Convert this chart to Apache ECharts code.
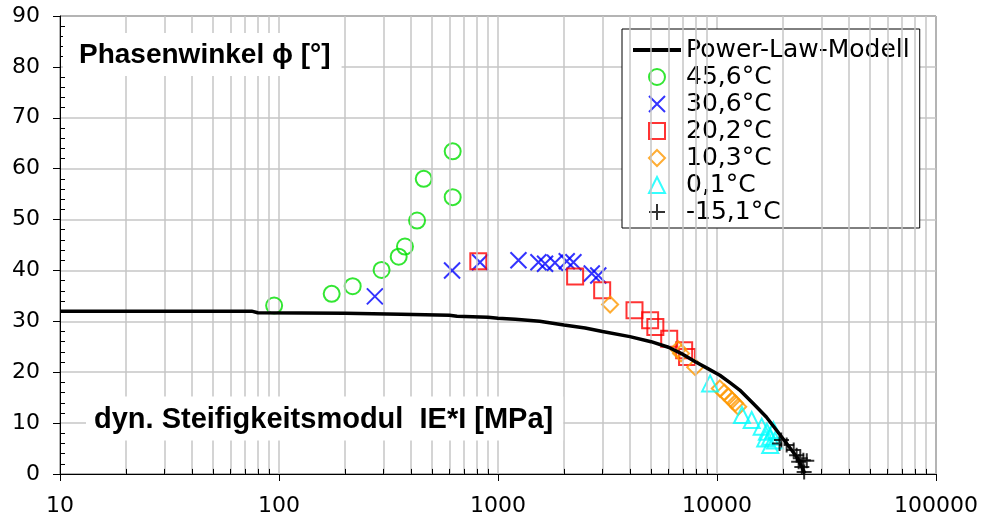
<!DOCTYPE html>
<html><head><meta charset="utf-8">
<script src="https://cdn.jsdelivr.net/npm/echarts@6/dist/echarts.min.js"></script>
<style>html,body{margin:0;padding:0;background:#fff}#c{width:984px;height:519px}</style>
</head><body><div id="c"></div>
<script>
// ---- data ----
const modelX = [10, 30, 75, 80, 200, 360, 600, 650, 900, 1000, 1200, 1550, 2000, 2500, 3000, 4000, 5000, 6000, 7000, 8000, 9000, 10300, 11500, 12700, 14600, 16800, 18700, 20800, 23100, 25200];
const modelY = [32.0, 32.0, 32.0, 31.7, 31.6, 31.4, 31.2, 31.0, 30.8, 30.6, 30.4, 30.0, 29.3, 28.7, 28.0, 27.0, 26.0, 24.9, 23.5, 22.0, 20.8, 19.4, 17.9, 16.5, 13.9, 11.2, 8.6, 6.0, 3.4, 0.1];

const t456X = [95, 174, 217, 294, 352, 376, 427, 458, 621, 621];
const t456Y = [33.1, 35.4, 36.9, 40.1, 42.7, 44.7, 49.8, 58.0, 54.4, 63.4];

const t306X = [274, 617, 828, 1240, 1530, 1640, 1820, 2060, 2210, 2680, 2870];
const t306Y = [34.9, 40.0, 41.6, 42.0, 41.6, 41.3, 41.5, 41.8, 41.6, 39.4, 39.0];

const t202X = [813, 2250, 2990, 4200, 4950, 5230, 6050, 7080, 7300];
const t202Y = [41.8, 38.8, 36.1, 32.2, 30.2, 28.9, 26.6, 24.3, 23.0];

const t103X = [3250, 6650, 6850, 7950, 10300, 10800, 11300, 11700, 12100, 12500];
const t103Y = [33.3, 24.5, 23.7, 21.0, 16.8, 16.0, 15.2, 14.5, 13.9, 13.2];

const t01X = [9300, 13000, 14400, 16000, 16600, 16900, 17500, 17500, 18100, 18400];
const t01Y = [17.8, 11.6, 10.6, 9.3, 7.0, 8.3, 7.3, 5.7, 8.6, 6.6];

const tm151X = [19300, 19700, 20800, 22400, 23100, 23600, 24000, 24400, 24800, 25000, 25700];
const tm151Y = [6.0, 6.7, 5.7, 4.7, 3.7, 2.4, 3.1, 1.4, 2.7, 0.4, 2.6];

const seriesNames = ['Power-Law-Modell', '45,6°C', '30,6°C', '20,2°C', '10,3°C', '0,1°C', '-15,1°C'];
const xDecades = [10, 100, 1000, 10000, 100000];
const titleY = 'Phasenwinkel ϕ [°]';
const titleX = 'dyn. Steifigkeitsmodul  IE*I [MPa]';

// ---- build ----
const zip = (xs, ys) => xs.map((x, i) => [x, ys[i]]);
const minorX = [];
for (let d = 0; d < xDecades.length - 1; d++) {
  for (let k = 2; k <= 9; k++) minorX.push(xDecades[d] * k);
}
const gridCol = '#c6c6c6';
const axisFont = 'DejaVu Sans';
const SYM_X = 'path://M0,0L16,16M16,0L0,16';
const SYM_P = 'path://M8,0L8,16M0,8L16,8';
const styles = [
  null,
  { symbol: 'circle', icon: 'circle', color: '#00e000', size: 16 },
  { symbol: SYM_X, icon: SYM_X, color: '#0000ff', size: 16 },
  { symbol: 'rect', icon: 'path://M0,0L16,0L16,16L0,16Z', color: '#ff0000', size: 16 },
  { symbol: 'diamond', icon: 'path://M8,0L16,8L8,16L0,8Z', color: '#ff9900', size: 16 },
  { symbol: 'triangle', icon: 'path://M8,0L16,16L0,16Z', color: '#00ffff', size: 16 },
  { symbol: SYM_P, icon: SYM_P, color: '#000000', size: 15 }
];
const xsList = [modelX, t456X, t306X, t202X, t103X, t01X, tm151X];
const ysList = [modelY, t456Y, t306Y, t202Y, t103Y, t01Y, tm151Y];

function scat(i) {
  const s = styles[i];
  return {
    type: 'scatter', name: seriesNames[i], symbol: s.symbol, symbolSize: s.size, symbolKeepAspect: true,
    data: zip(xsList[i], ysList[i]), z: 3,
    itemStyle: { color: 'rgba(0,0,0,0)', borderColor: s.color, borderWidth: 2 },
    emphasis: { disabled: true }
  };
}

const legendData = seriesNames.map((n, i) => i === 0
  ? { name: n, icon: 'path://M0,0L48,0L48,4L0,4Z', itemStyle: { color: '#000', borderWidth: 0 } }
  : { name: n, icon: styles[i].icon,
      itemStyle: { color: 'rgba(0,0,0,0)', borderColor: styles[i].color, borderWidth: 2 } });

const chart = echarts.init(document.getElementById('c'), null, { renderer: 'canvas' });
chart.setOption({
  animation: false,
  backgroundColor: '#fff',
  grid: { left: 60, right: 48, top: 16, bottom: 45, show: true, borderColor: '#000', borderWidth: 1, backgroundColor: '#fff' },
  title: [
    { text: titleY, left: 63, top: 33, padding: [8, 11, 7, 16], backgroundColor: '#fff',
      textStyle: { fontFamily: 'Liberation Sans', fontWeight: 'bold', fontSize: 28, lineHeight: 28, color: '#000' } },
    { text: titleX, left: 86, top: 397, padding: [9, 10, 6, 8], backgroundColor: '#fff',
      textStyle: { fontFamily: 'Liberation Sans', fontWeight: 'bold', fontSize: 29, lineHeight: 28, color: '#000' } }
  ],
  legend: {
    data: legendData, orient: 'vertical', left: 622, top: 29,
    backgroundColor: '#fff', borderColor: '#000', borderWidth: 1,
    padding: [8, 10, 3, 11], itemWidth: 48, itemHeight: 16, itemGap: 1,
    symbolKeepAspect: true,
    selectedMode: false,
    textStyle: { fontFamily: axisFont, fontSize: 25, lineHeight: 26, color: '#000' }
  },
  xAxis: {
    type: 'log', logBase: 10, min: xDecades[0], max: xDecades[xDecades.length - 1],
    axisLine: { lineStyle: { color: '#000', width: 1 } },
    axisTick: { show: true, length: 7, lineStyle: { color: '#000' } },
    axisLabel: { fontFamily: axisFont, fontSize: 22, color: '#000', margin: 21, formatter: v => String(v) },
    splitLine: { show: true, lineStyle: { color: gridCol, width: 1.5 } }
  },
  yAxis: [
    { type: 'value', min: 0, max: 90, interval: 10, position: 'left',
      axisLine: { show: true, lineStyle: { color: '#000', width: 1 } },
      axisTick: { show: true, length: 7, lineStyle: { color: '#000' } },
      axisLabel: { fontFamily: axisFont, fontSize: 22, color: '#000', margin: 20 },
      splitLine: { show: true, lineStyle: { color: gridCol, width: 1.5 } } },
    { type: 'value', min: 0, max: 90, interval: 10, position: 'left',
      axisLine: { show: false }, axisLabel: { show: false }, splitLine: { show: false },
      axisTick: { show: false, inside: true },
      minorTick: { show: true, splitNumber: 5, length: 5, lineStyle: { color: '#000', width: 1 } } }
  ],
  series: [
    { type: 'line', name: seriesNames[0], data: zip(modelX, modelY), symbol: 'none', showSymbol: false, z: 5,
      lineStyle: { color: '#000', width: 3.5 }, itemStyle: { color: '#000' }, emphasis: { disabled: true } },
    scat(1), scat(2), scat(3), scat(4), scat(5), scat(6),
    { type: 'scatter', name: 'gridlines', data: [[10, 0]], symbolSize: 0, z: 1, silent: true,
      markLine: { silent: true, symbol: ['none', 'none'], label: { show: false }, animation: false,
        lineStyle: { color: gridCol, width: 1.5, type: 'solid' },
        emphasis: { disabled: true },
        data: minorX.map(v => ({ xAxis: v })) } },
    { type: 'scatter', name: 'minorticks', data: [[10, 0]], symbolSize: 0, z: 2, silent: true,
      markLine: { silent: true, symbol: ['none', 'none'], label: { show: false }, animation: false,
        lineStyle: { color: '#000', width: 1, type: 'solid' },
        emphasis: { disabled: true },
        data: minorX.map(v => [{ coord: [v, 0] }, { coord: [v, 1] }]) } }
  ]
});
</script></body></html>
